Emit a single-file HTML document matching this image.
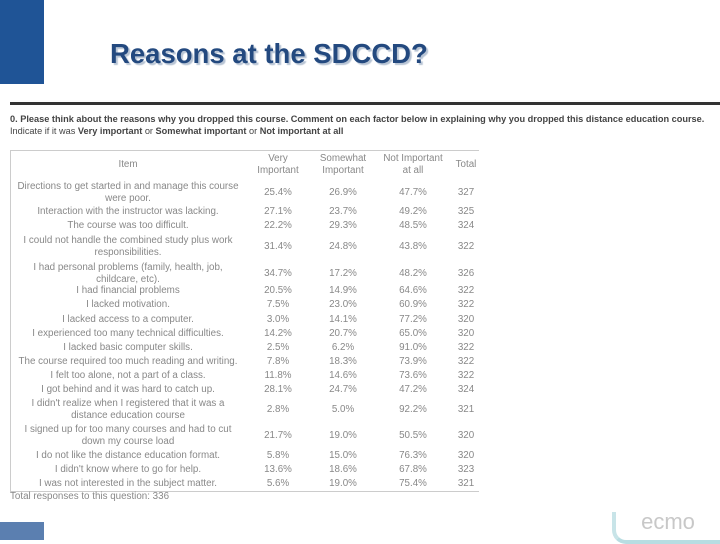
<!DOCTYPE html>
<html><head><meta charset="utf-8"><style>
body{margin:0;width:720px;height:540px;position:relative;background:#fff;overflow:hidden;font-family:"Liberation Sans",sans-serif}
.a{position:absolute}
.t{position:absolute;font-size:9.8px;color:#888;line-height:12px;text-align:center;white-space:nowrap}
</style></head><body>
<div class="a" style="left:0;top:0;width:44px;height:84px;background:#1f5496"></div>
<div class="a" style="left:110px;top:38px;font-size:27.5px;font-weight:bold;color:#23497f;text-shadow:2px 2px 1px #b8c4d4">Reasons at the SDCCD?</div>
<div class="a" style="left:10px;top:102px;width:710px;height:3px;background:#333"></div>
<div class="a" style="left:10px;top:113px;font-size:9.2px;line-height:12px;color:#444;white-space:nowrap"><b>0. Please think about the reasons why you dropped this course. Comment on each factor below in explaining why you dropped this distance education course.</b><br>Indicate if it was <b>Very important</b> or <b>Somewhat important</b> or <b>Not important at all</b></div>
<div class="a" style="left:10px;top:150px;width:468px;height:340px;border-left:1px solid #ccc;border-top:1px solid #ccc;border-bottom:1px solid #ccc"></div>
<div id="tbl"></div>
<div class="t" style="left:10px;top:491px;text-align:left">Total responses to this question: 336</div>
<div class="a" style="left:0;top:522px;width:44px;height:18px;background:#5b7fb0"></div>
<div class="a" style="left:612px;top:512px;width:104px;height:28px;border-bottom:4px solid #b8dde2;border-left:4px solid #c8e4e8;border-radius:0 0 0 14px;color:#c8c8c8;font-size:22px;line-height:20px;text-align:center;overflow:hidden">ecmo</div>
<script>
const items=[["Directions to get started in and manage this course","were poor."],["Interaction with the instructor was lacking."],["The course was too difficult."],["I could not handle the combined study plus work","responsibilities."],["I had personal problems (family, health, job,","childcare, etc)."],["I had financial problems"],["I lacked motivation."],["I lacked access to a computer."],["I experienced too many technical difficulties."],["I lacked basic computer skills."],["The course required too much reading and writing."],["I felt too alone, not a part of a class."],["I got behind and it was hard to catch up."],["I didn't realize when I registered that it was a","distance education course"],["I signed up for too many courses and had to cut","down my course load"],["I do not like the distance education format."],["I didn't know where to go for help."],["I was not interested in the subject matter."]];
const veryImp=["25.4%","27.1%","22.2%","31.4%","34.7%","20.5%","7.5%","3.0%","14.2%","2.5%","7.8%","11.8%","28.1%","2.8%","21.7%","5.8%","13.6%","5.6%"];
const someImp=["26.9%","23.7%","29.3%","24.8%","17.2%","14.9%","23.0%","14.1%","20.7%","6.2%","18.3%","14.6%","24.7%","5.0%","19.0%","15.0%","18.6%","19.0%"];
const notImp=["47.7%","49.2%","48.5%","43.8%","48.2%","64.6%","60.9%","77.2%","65.0%","91.0%","73.9%","73.6%","47.2%","92.2%","50.5%","76.3%","67.8%","75.4%"];
const totals=["327","325","324","322","326","322","322","320","320","322","322","322","324","321","320","320","323","321"];
const rowY=[193,212,226,247,274,291,305,320,334,348,362,376,390,410,436,456,470,484];
const T=document.getElementById('tbl');
function cell(x,y,txt,w,name){const d=document.createElement('div');d.className='t';


d.style.left=(x-w/2)+'px';d.style.width=w+'px';d.style.top=y+'px';d.innerHTML=txt;T.appendChild(d);}
cell(128,159,"Item",200,'header-item');
cell(278,153,"Very<br>Important",70,'header-very-important');
cell(343,153,"Somewhat<br>Important",70,'header-somewhat-important');
cell(413,153,"Not Important<br>at all",80,'header-not-important');
cell(466,159,"Total",30,'header-total');
items.forEach((it,i)=>{const y=rowY[i];
cell(128,y-(it.length*12)/2,it.join('<br>'),240,'row-label');
cell(278,y-6,veryImp[i],60,'very-important-value');
cell(343,y-6,someImp[i],60,'somewhat-important-value');
cell(413,y-6,notImp[i],60,'not-important-value');
cell(466,y-6,totals[i],30,'total-value');});
</script>
</body></html>
